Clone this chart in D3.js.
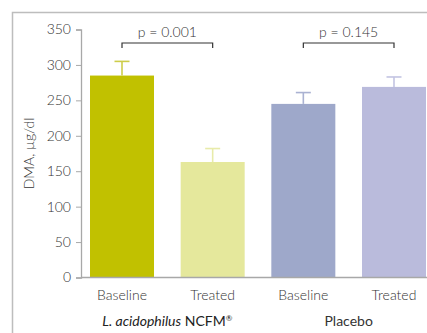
<!DOCTYPE html>
<html>
<head>
<meta charset="utf-8">
<script src="https://cdn.jsdelivr.net/npm/d3@7"></script>
<style>
  body { margin: 0; background: #fff; }
  text { font-family: Lato, "Open Sans", sans-serif; fill: #333; font-weight: 300; }
  text.group { font-weight: 400; }
</style>
</head>
<body>
<svg></svg>
<script>
// data
const bars = ["Baseline A", "Treated A", "Baseline B", "Treated B"];
const barLabels = ["Baseline", "Treated", "Baseline", "Treated"];
const means = [285, 163, 245, 269];
const errors = [20, 19, 16, 14];
const fills = ["#c1c100", "#e5e89c", "#9ea8ca", "#babbdc"];
const errColors = ["#cdcd4a", "#e8ebaa", "#aab2d2", "#c3c4e2"];
const yTicks = [0, 50, 100, 150, 200, 250, 300, 350];
const pLabels = ["p = 0.001", "p = 0.145"];

let width = 427, height = 333;
let margin = { top: 29.5, bottom: 55.5, left: 81, right: 1 };

let svg = d3.select("svg").attr("width", width).attr("height", height);

// frame
svg.append("path")
   .attr("d", `M12.5,${height} V12.5 H${width}`)
   .attr("fill", "none")
   .attr("stroke", "#bdbdbd")
   .attr("stroke-width", 1.5);

let x = d3.scaleBand()
          .domain(bars)
          .range([90, width - margin.right])
          .paddingInner(0.294)
          .paddingOuter(0);

let y = d3.scaleLinear()
          .domain([0, 350])
          .range([height - margin.bottom, margin.top]);

// y axis
let yAxis = svg.append("g")
   .attr("transform", `translate(${margin.left},0)`)
   .call(d3.axisLeft(y).tickValues(yTicks).tickSize(5).tickPadding(5));
yAxis.select(".domain").attr("stroke", "#a8a8a8").attr("stroke-width", 1.3);
yAxis.selectAll(".tick line").attr("stroke", "#a8a8a8");
yAxis.selectAll(".tick text").style("font-size", "14px").attr("fill", "#333")
     .style("font-family", "Lato, sans-serif");

// bars
svg.selectAll("rect.bar")
   .data(bars)
   .enter()
   .append("rect")
   .attr("class", "bar")
   .attr("x", d => x(d))
   .attr("width", x.bandwidth())
   .attr("y", (d, i) => y(means[i]))
   .attr("height", (d, i) => y(0) - y(means[i]))
   .attr("fill", (d, i) => fills[i]);

// error bars
bars.forEach((d, i) => {
  let cx = x(d) + x.bandwidth() / 2;
  let g = svg.append("g").attr("stroke", errColors[i]).attr("stroke-width", 1.6);
  g.append("line").attr("x1", cx).attr("x2", cx)
   .attr("y1", y(means[i])).attr("y2", y(means[i] + errors[i]));
  g.append("line").attr("x1", cx - 7.5).attr("x2", cx + 7.5)
   .attr("y1", y(means[i] + errors[i])).attr("y2", y(means[i] + errors[i]));
});

// x axis line
svg.append("line")
   .attr("x1", margin.left).attr("x2", width)
   .attr("y1", y(0)).attr("y2", y(0))
   .attr("stroke", "#a8a8a8").attr("stroke-width", 1.3);

// bar labels
svg.selectAll("text.barlabel")
   .data(bars)
   .enter()
   .append("text")
   .attr("class", "barlabel")
   .attr("x", d => x(d) + x.bandwidth() / 2)
   .attr("y", y(0) + 22)
   .attr("text-anchor", "middle")
   .style("font-size", "14px")
   .text((d, i) => barLabels[i]);

// group labels
let center = (a, b) => (x(bars[a]) + x(bars[b]) + x.bandwidth()) / 2;
let g1 = svg.append("text")
   .attr("class", "group")
   .attr("x", center(0, 1))
   .attr("y", y(0) + 48)
   .attr("text-anchor", "middle")
   .style("font-size", "14px")
   .attr("fill", "#222");
g1.append("tspan").style("font-style", "italic").attr("fill", "#222").text("L. acidophilus");
g1.append("tspan").attr("fill", "#222").text(" NCFM");
g1.append("tspan").attr("fill", "#222").attr("dy", -5).style("font-size", "8px").text("®");

svg.append("text")
   .attr("class", "group")
   .attr("x", center(2, 3))
   .attr("y", y(0) + 48)
   .attr("text-anchor", "middle")
   .style("font-size", "14px")
   .attr("fill", "#222")
   .text("Placebo");

// y label
svg.append("text")
   .attr("transform", `translate(34, ${(y(0) + y(350)) / 2}) rotate(-90)`)
   .attr("text-anchor", "middle")
   .style("font-size", "14px")
   .text("DMA, µg/dl");

// p-value brackets
[[0, 1], [2, 3]].forEach((pair, k) => {
  let x1 = x(bars[pair[0]]) + x.bandwidth() / 2;
  let x2 = x(bars[pair[1]]) + x.bandwidth() / 2;
  let by = 43;
  svg.append("path")
     .attr("d", `M${x1},${by + 5} V${by} H${x2} V${by + 5}`)
     .attr("fill", "none")
     .attr("stroke", "#333")
     .attr("stroke-width", 1.2);
  svg.append("text")
     .attr("x", (x1 + x2) / 2)
     .attr("y", by - 6)
     .attr("text-anchor", "middle")
     .style("font-size", "14px")
     .text(pLabels[k]);
});
</script>
</body>
</html>
